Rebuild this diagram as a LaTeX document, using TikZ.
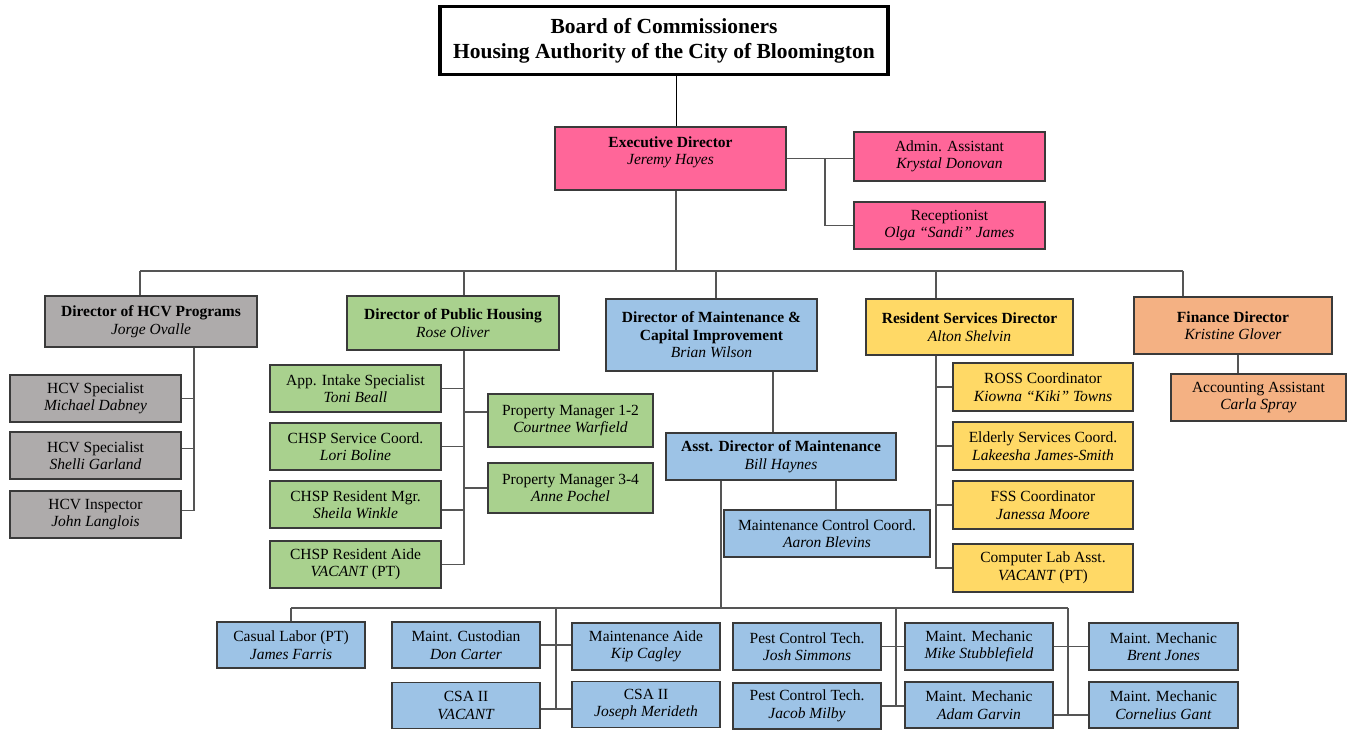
\documentclass[tikz,border=0pt]{standalone}
\usepackage{fontspec}
\setmainfont{Liberation Serif}
\usetikzlibrary{calc}
\definecolor{pinkc}{HTML}{FF6699}
\definecolor{grayc}{HTML}{AEABAB}
\definecolor{greenc}{HTML}{A9D18E}
\definecolor{bluec}{HTML}{9DC3E6}
\definecolor{yellowc}{HTML}{FFD966}
\definecolor{orangec}{HTML}{F4B183}
\definecolor{bordc}{HTML}{3A3A3A}
\definecolor{connc}{HTML}{555555}
\tikzset{
  box/.style={draw=bordc, line width=1.4pt, inner sep=0pt, align=center,
    font=\fontsize{15.5}{17.5}\selectfont},
  sz/.style 2 args={minimum width=#1pt, minimum height=#2pt},
  conn/.style={draw=connc, line width=1.3pt},
}
\begin{document}
\begin{tikzpicture}[x=1pt,y=-1pt]
\path[use as bounding box, fill=white] (0,0) rectangle (1351,730);

% Title
\node[draw=black, line width=3.5pt, sz={448}{68}, align=center, inner sep=0pt,
  font=\fontsize{21.5}{25}\selectfont\bfseries] (title) at (664,40.5)
  {Board of Commissioners\\Housing Authority of the City of Bloomington};

% Executive
\node[box, fill=pinkc, sz={231}{63}] (exec) at (670.5,158.5) {};
\node[font=\fontsize{15.5}{17.5}\selectfont, align=center, inner sep=0pt] (exectext) at (670.5,152.5)
  {\textbf{Executive Director}\\\textit{Jeremy Hayes}};
\node[box, fill=pinkc, sz={191}{49}] (admin) at (949.5,156.5) {Admin. Assistant\\\textit{Krystal Donovan}};
\node[box, fill=pinkc, sz={191}{47}] (recep) at (949.5,225.5) {Receptionist\\\textit{Olga “Sandi” James}};

% HCV
\node[box, fill=grayc, sz={212}{51}] (hcv) at (151,321.5) {\textbf{Director of HCV Programs}\\\textit{Jorge Ovalle}};
\node[box, fill=grayc, sz={171}{47}] (hcv1) at (95.5,398.5) {HCV Specialist\\\textit{Michael Dabney}};
\node[box, fill=grayc, sz={171}{47}] (hcv2) at (95.5,455.5) {HCV Specialist\\\textit{Shelli Garland}};
\node[box, fill=grayc, sz={171}{47}] (hcvi) at (95.5,514.5) {HCV Inspector\\\textit{John Langlois}};

% Public housing
\node[box, fill=greenc, sz={212}{54}] (ph) at (453,323) {\textbf{Director of Public Housing}\\\textit{Rose Oliver}};
\node[box, fill=greenc, sz={171}{47}] (app) at (355.5,388.5) {App. Intake Specialist\\\textit{Toni Beall}};
\node[box, fill=greenc, sz={171}{47}] (chsps) at (355.5,446.5) {CHSP Service Coord.\\\textit{Lori Boline}};
\node[box, fill=greenc, sz={171}{47}] (chspm) at (355.5,504.5) {CHSP Resident Mgr.\\\textit{Sheila Winkle}};
\node[box, fill=greenc, sz={171}{47}] (chspa) at (355.5,564.5) {CHSP Resident Aide\\\textit{VACANT} (PT)};
\node[box, fill=greenc, sz={165}{53}] (pm12) at (570.5,420.5) {Property Manager 1-2\\\textit{Courtnee Warfield}};
\node[box, fill=greenc, sz={165}{50}] (pm34) at (570.5,488) {Property Manager 3-4\\\textit{Anne Pochel}};

% Maintenance
\node[box, fill=bluec, sz={211}{72}] (maint) at (711.5,335) {\textbf{Director of Maintenance \&}\\\textbf{Capital Improvement}\\\textit{Brian Wilson}};
\node[box, fill=bluec, sz={230}{47}] (asst) at (781,456.5) {\textbf{Asst. Director of Maintenance}\\\textit{Bill Haynes}};
\node[box, fill=bluec, sz={206}{47}] (mcc) at (827,533.5) {Maintenance Control Coord.\\\textit{Aaron Blevins}};

% Resident services
\node[box, fill=yellowc, sz={207}{56}] (res) at (969.5,327) {\textbf{Resident Services Director}\\\textit{Alton Shelvin}};
\node[box, fill=yellowc, sz={180}{48}] (ross) at (1043,387) {ROSS Coordinator\\\textit{Kiowna “Kiki” Towns}};
\node[box, fill=yellowc, sz={180}{48}] (eld) at (1043,446) {Elderly Services Coord.\\\textit{Lakeesha James-Smith}};
\node[box, fill=yellowc, sz={180}{48}] (fss) at (1043,505) {FSS Coordinator\\\textit{Janessa Moore}};
\node[box, fill=yellowc, sz={180}{48}] (cla) at (1043,568) {Computer Lab Asst.\\\textit{VACANT} (PT)};

% Finance
\node[box, fill=orangec, sz={198}{57}] (fin) at (1233,325.5) {\textbf{Finance Director}\\\textit{Kristine Glover}};
\node[box, fill=orangec, sz={175}{47}] (acc) at (1258.5,397.5) {Accounting Assistant\\\textit{Carla Spray}};

% Bottom row
\node[box, fill=bluec, sz={148}{46}] (casual) at (291,645) {Casual Labor (PT)\\\textit{James Farris}};
\node[box, fill=bluec, sz={148}{46}] (cust) at (466,645) {Maint. Custodian\\\textit{Don Carter}};
\node[box, fill=bluec, sz={148}{47}] (aide) at (646,646.5) {Maintenance Aide\\\textit{Kip Cagley}};
\node[box, fill=bluec, sz={148}{46}] (csa1) at (466,705.5) {CSA II\\\textit{VACANT}};
\node[box, fill=bluec, sz={148}{46}] (csa2) at (646,704.5) {CSA II\\\textit{Joseph Merideth}};
\node[box, fill=bluec, sz={148}{47}] (pest1) at (807,646.5) {Pest Control Tech.\\\textit{Josh Simmons}};
\node[box, fill=bluec, sz={148}{46}] (pest2) at (807,706) {Pest Control Tech.\\\textit{Jacob Milby}};
\node[box, fill=bluec, sz={148}{47}] (mike) at (979,646.5) {Maint. Mechanic\\\textit{Mike Stubblefield}};
\node[box, fill=bluec, sz={148}{46}] (adam) at (979,705) {Maint. Mechanic\\\textit{Adam Garvin}};
\node[box, fill=bluec, sz={149}{47}] (brent) at (1163.5,646.5) {Maint. Mechanic\\\textit{Brent Jones}};
\node[box, fill=bluec, sz={149}{46}] (corn) at (1163.5,705) {Maint. Mechanic\\\textit{Cornelius Gant}};

% ---- connectors ----
\coordinate (xt) at (676,0);
\draw[conn, draw=black, line width=1pt] (title.south -| xt) -- (exec.north -| xt);
\coordinate (bus) at (676,271);
\draw[conn] (exec.south -| xt) -- (bus);
\coordinate (b1) at (140,271);
\coordinate (b2) at (464,271);
\coordinate (b3) at (716,271);
\coordinate (b4) at (936,271);
\coordinate (b5) at (1183,271);
\draw[conn] (b1) -- (b5);
\draw[conn] (b1) -- (hcv.north -| b1);
\draw[conn] (b2) -- (ph.north -| b2);
\draw[conn] (b3) -- (maint.north -| b3);
\draw[conn] (b4) -- (res.north -| b4);
\draw[conn] (b5) -- (fin.north -| b5);

% exec staff
\coordinate (ej) at (825,0);
\draw[conn] (exec.east) -- (admin.west |- exec.east);
\draw[conn] (exec.east -| ej) |- (recep.west);

% HCV
\coordinate (hv) at (194,0);
\coordinate (hcv2c) at ($(hcv2.east)+(0,-7)$);
\coordinate (hcvic) at ($(hcvi.east)+(0,-4)$);
\draw[conn] (hcv.south -| hv) |- (hcvic);
\draw[conn] (hcv1.east) -- (hcv1.east -| hv);
\draw[conn] (hcv2c) -- (hcv2c -| hv);

% Public housing
\coordinate (pv) at (464,0);
\draw[conn] (ph.south -| pv) |- (chspa.east);
\draw[conn] (app.east) -- (app.east -| pv);
\draw[conn] (chsps.east) -- (chsps.east -| pv);
\coordinate (chspmc) at ($(chspm.east)+(0,5.5)$);
\draw[conn] (chspmc) -- (chspmc -| pv);
\coordinate (pm12c) at ($(pm12.west)+(0,-8.5)$);
\draw[conn] (pm12c) -- (pm12c -| pv);
\draw[conn] (pm34.west) -- (pm34.west -| pv);

% Maintenance
\coordinate (mv) at (773,0);
\draw[conn] (maint.south -| mv) -- (asst.north -| mv);
\coordinate (av) at (836,0);
\draw[conn] (asst.south -| av) -- (mcc.north -| av);
\coordinate (bb) at (721,608);
\draw[conn] (asst.south -| bb) -- (bb);
\coordinate (c1) at (291,608);
\coordinate (c2) at (556,608);
\coordinate (c3) at (896,608);
\coordinate (c4) at (1068,608);
\draw[conn] (c1) -- (c4);
\draw[conn] (c1) -- (casual.north -| c1);
\coordinate (csac) at ($(csa1.east)+(0,3.5)$);
\draw[conn] (c2) -- (c2 |- csac);
\draw[conn] (cust.east) -- (aide.west |- cust.east);
\draw[conn] (csac) -- (csa2.west |- csac);
\draw[conn] (c3) -- (c3 |- pest2.east);
\draw[conn] (pest1.east) -- (mike.west |- pest1.east);
\draw[conn] (pest2.east) -- (adam.west |- pest2.east);
\coordinate (adamc) at ($(adam.east)+(0,10)$);
\draw[conn] (c4) -- (c4 |- adamc);
\draw[conn] (mike.east) -- (brent.west |- mike.east);
\draw[conn] (adamc) -- (corn.west |- adamc);

% Resident services
\coordinate (rv) at (936,0);
\draw[conn] (res.south -| rv) |- (cla.west);
\draw[conn] (ross.west) -- (ross.west -| rv);
\draw[conn] (eld.west) -- (eld.west -| rv);
\draw[conn] (fss.west) -- (fss.west -| rv);

% Finance
\coordinate (fv) at (1238,0);
\draw[conn] (fin.south -| fv) -- (acc.north -| fv);
\end{tikzpicture}
\end{document}
